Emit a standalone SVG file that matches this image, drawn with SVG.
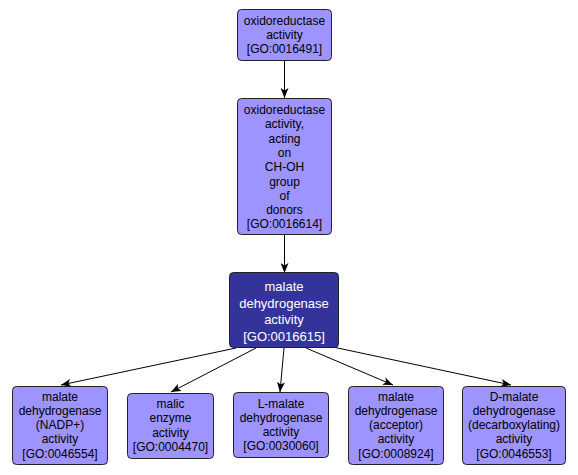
<svg xmlns="http://www.w3.org/2000/svg" width="578" height="475" viewBox="0 0 578 475">
<defs>
<marker id="arr" markerUnits="userSpaceOnUse" markerWidth="10" markerHeight="8" refX="10" refY="4" orient="auto">
<path d="M0,0 L10,4 L0,8 L2.5,4 z" fill="#000"/>
</marker>
<style>
.n rect{fill:#9d94ff;stroke:#222;stroke-width:1}
.n text{font-family:"Liberation Sans",Arial,sans-serif;font-size:12px;fill:#000;text-anchor:middle}
#n3 rect{fill:#333399}
#n3 text{fill:#fff;font-size:13px}
.e line{stroke:#000;stroke-width:1;marker-end:url(#arr)}
</style>
</defs>
<rect width="578" height="475" fill="#fff"/>
<g class="e" id="edges">
<line x1="284.5" y1="60" x2="284.5" y2="98"/>
<line x1="284.5" y1="234" x2="284.5" y2="273"/>
<line x1="236" y1="348" x2="61" y2="385"/>
<line x1="256" y1="348" x2="171" y2="392"/>
<line x1="284" y1="348" x2="280" y2="392"/>
<line x1="306" y1="348" x2="393" y2="385"/>
<line x1="333" y1="347" x2="511" y2="385"/>
</g>
<g class="n" id="n1">
<rect x="237.5" y="9.5" width="94" height="51" rx="4"/>
<text x="284.5" y="24.5">oxidoreductase</text>
<text x="284.5" y="38.8">activity</text>
<text x="284.5" y="53.1">[GO:0016491]</text>
</g>
<g class="n" id="n2">
<rect x="237.5" y="98.5" width="94" height="136" rx="4"/>
<text x="284.5" y="114">oxidoreductase</text>
<text x="284.5" y="128.3">activity,</text>
<text x="284.5" y="142.6">acting</text>
<text x="284.5" y="156.9">on</text>
<text x="284.5" y="171.2">CH-OH</text>
<text x="284.5" y="185.5">group</text>
<text x="284.5" y="199.8">of</text>
<text x="284.5" y="214.1">donors</text>
<text x="284.5" y="228.4">[GO:0016614]</text>
</g>
<g class="n" id="n3">
<rect x="229.5" y="272.5" width="109" height="75" rx="4"/>
<text x="284" y="291">malate</text>
<text x="284" y="307.5">dehydrogenase</text>
<text x="284" y="324">activity</text>
<text x="284" y="340.5">[GO:0016615]</text>
</g>
<g class="n" id="n4">
<rect x="12.5" y="386.5" width="95" height="78" rx="4"/>
<text x="60" y="400.5">malate</text>
<text x="60" y="414.8">dehydrogenase</text>
<text x="60" y="429.1">(NADP+)</text>
<text x="60" y="443.4">activity</text>
<text x="60" y="457.7">[GO:0046554]</text>
</g>
<g class="n" id="n5">
<rect x="127.5" y="393.5" width="86" height="65" rx="4"/>
<text x="170.5" y="408">malic</text>
<text x="170.5" y="422.3">enzyme</text>
<text x="170.5" y="436.6">activity</text>
<text x="170.5" y="450.9">[GO:0004470]</text>
</g>
<g class="n" id="n6">
<rect x="233.5" y="392.5" width="95" height="65" rx="4"/>
<text x="281" y="407.5">L-malate</text>
<text x="281" y="421.8">dehydrogenase</text>
<text x="281" y="436.1">activity</text>
<text x="281" y="450.4">[GO:0030060]</text>
</g>
<g class="n" id="n7">
<rect x="348.5" y="386.5" width="95" height="78" rx="4"/>
<text x="396" y="400.5">malate</text>
<text x="396" y="414.8">dehydrogenase</text>
<text x="396" y="429.1">(acceptor)</text>
<text x="396" y="443.4">activity</text>
<text x="396" y="457.7">[GO:0008924]</text>
</g>
<g class="n" id="n8">
<rect x="462.5" y="386.5" width="103" height="78" rx="4"/>
<text x="514" y="400.5">D-malate</text>
<text x="514" y="414.8">dehydrogenase</text>
<text x="514" y="429.1">(decarboxylating)</text>
<text x="514" y="443.4">activity</text>
<text x="514" y="457.7">[GO:0046553]</text>
</g>
</svg>
